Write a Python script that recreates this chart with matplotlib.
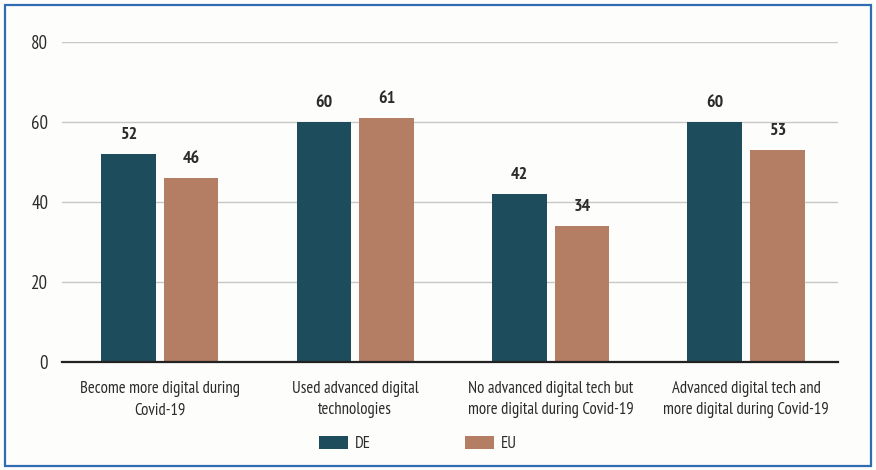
import matplotlib
matplotlib.use("Agg")
import matplotlib.pyplot as plt
from matplotlib import font_manager as fm
from matplotlib.patches import Rectangle
import numpy as np

categories = [
    "Become more digital during\nCovid-19",
    "Used advanced digital\ntechnologies",
    "No advanced digital tech but\nmore digital during Covid-19",
    "Advanced digital tech and\nmore digital during Covid-19",
]
de_values = [52, 60, 42, 60]
eu_values = [46, 61, 34, 53]
series_names = ["DE", "EU"]
y_ticks = [0, 20, 40, 60, 80]

DE_COLOR = "#1d4d5d"
EU_COLOR = "#b37e63"
BG = "#fdfdfb"
TEXT = "#2b2b2b"

# Prefer a narrow sans face for the compact report style
installed = {f.name for f in fm.fontManager.ttflist}
narrow = next((n for n in ["PT Sans Narrow", "Fira Sans Condensed", "Asap Condensed",
                           "Archivo Narrow", "Barlow Semi Condensed"] if n in installed),
              "DejaVu Sans")
plt.rcParams["font.family"] = [narrow, "DejaVu Sans"]

fig = plt.figure(figsize=(8.76, 4.70), dpi=100, facecolor=BG)
ax = fig.add_axes([0.0708, 0.2298, 0.8858, 0.6808], facecolor=BG)

x = np.arange(len(categories))
w = 0.28
off = 0.16
b1 = ax.bar(x - off, de_values, w, color=DE_COLOR, label=series_names[0], zorder=3)
b2 = ax.bar(x + off, eu_values, w, color=EU_COLOR, label=series_names[1], zorder=3)

for bars, vals in ((b1, de_values), (b2, eu_values)):
    for bar, v in zip(bars, vals):
        ax.annotate(f"{v}", (bar.get_x() + bar.get_width() / 2, v),
                    xytext=(0, 8), textcoords="offset points",
                    ha="center", va="bottom", fontsize=13,
                    fontweight="bold", color=TEXT)

ax.set_xlim(-0.5, 3.47)
ax.set_ylim(0, 80)
ax.set_yticks(y_ticks)
ax.set_yticklabels([str(t) for t in y_ticks], fontsize=13.5, color=TEXT)
ax.set_xticks(x)
ax.set_xticklabels(categories, fontsize=12, color=TEXT, linespacing=1.4)
ax.tick_params(axis="y", length=0, pad=10)
ax.tick_params(axis="x", length=0, pad=14)

ax.grid(axis="y", color="#c8c8c8", linewidth=1.0, zorder=0)
for s in ("top", "right", "left"):
    ax.spines[s].set_visible(False)
ax.spines["bottom"].set_color("#222222")
ax.spines["bottom"].set_linewidth(1.6)
ax.spines["bottom"].set_zorder(4)

fig.legend(handles=[b1, b2], labels=series_names, loc="center",
           bbox_to_anchor=(0.477, 0.055), ncol=2, frameon=False,
           fontsize=12, handlelength=1.75, handleheight=0.8,
           columnspacing=5.6, handletextpad=0.45, labelcolor=TEXT)

# Thin blue frame around the whole figure
fig.add_artist(Rectangle((0.006, 0.008), 0.988, 0.982, transform=fig.transFigure,
                         fill=False, edgecolor="#2f6cb3", linewidth=1.6))

fig.savefig("out.png", dpi=100, facecolor=BG)
